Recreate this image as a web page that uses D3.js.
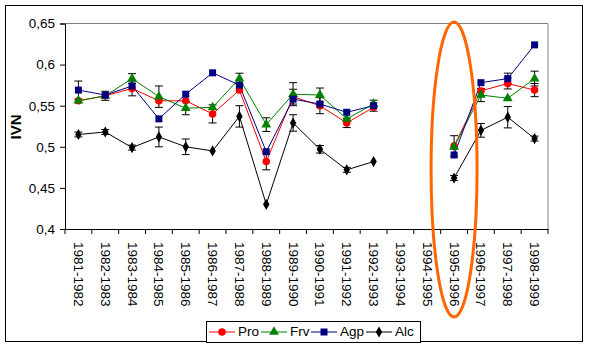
<!DOCTYPE html>
<html><head><meta charset="utf-8">
<script src="https://cdn.jsdelivr.net/npm/d3@7"></script>
<style>body{margin:0;background:#fff}svg{display:block}text{font-family:"Liberation Sans",Arial,sans-serif}</style>
</head><body><svg id="c" width="590" height="348"></svg>
<script>
const categories = ["1981-1982","1982-1983","1983-1984","1984-1985","1985-1986","1986-1987","1987-1988","1988-1989","1989-1990","1990-1991","1991-1992","1992-1993","1993-1994","1994-1995","1995-1996","1996-1997","1997-1998","1998-1999"];
const pro = [0.556,0.562,0.571,0.556,0.556,0.540,0.569,0.482,0.561,0.550,0.529,0.548,null,null,0.501,0.568,0.577,0.569];
const frv = [0.556,0.562,0.583,0.561,0.547,0.548,0.583,0.527,0.564,0.563,0.534,0.552,null,null,0.500,0.563,0.559,0.583];
const agp = [0.569,0.563,0.574,0.534,0.564,0.590,0.575,0.494,0.558,0.552,0.542,0.550,null,null,0.490,0.578,0.583,0.624];
const alc = [0.515,0.518,0.499,0.512,0.500,0.495,0.537,0.430,0.529,0.497,0.472,0.482,null,null,0.462,0.520,0.536,0.510];
const proErr = [0,0.0055,0.009,0,0,0.011,0,0.010,0.009,0.0097,0.0056,0,null,null,0.0125,0,0.0066,0.008];
const frvErr = [0,0,0.006,0.013,0.008,0,0.0065,0.0083,0.014,0.0085,0,0,null,null,0,0.008,0,0.009];
const agpErr = [0.011,0,0,0,0,0,0,0,0,0,0,0.0067,null,null,0,0,0.0066,0];
const alcErr = [0.003,0.003,0.003,0.012,0.0095,0,0.013,0,0.010,0.0046,0.003,0,null,null,0.003,0.0083,0.013,0.003];
const yTicks = [0.4,0.45,0.5,0.55,0.6,0.65];
const seriesNames = ["Pro","Frv","Agp","Alc"];
const colors = ["#FF0000","#008000","#000080","#000000"];

const svg = d3.select("#c");
const L = 65, R = 548, T = 23.5, B = 229;
svg.append("rect").attr("x",5.5).attr("y",5.5).attr("width",577).attr("height",336).attr("fill","#fff").attr("stroke","#000");

const x = d3.scaleBand().domain(categories).range([L,R]);
const y = d3.scaleLinear().domain([0.4,0.65]).range([B,T]);

// plot border (top/right gray)
svg.append("path").attr("d",`M${L},${T}H${R}V${B}`).attr("fill","none").attr("stroke","#808080");

const fmt = d => String(+d.toFixed(2)).replace(".",",");
const ya = svg.append("g").attr("transform",`translate(${L},0)`)
  .call(d3.axisLeft(y).tickValues(yTicks).tickFormat(fmt).tickSize(5).tickPadding(5));
ya.select(".domain").attr("stroke","#000");
ya.selectAll("text").attr("font-size",13.5).attr("fill","#000");

const xa = svg.append("g").attr("transform",`translate(0,${B})`)
  .call(d3.axisBottom(x).tickSize(0).tickFormat(""));
xa.select(".domain").attr("stroke","#000");
// ticks at category boundaries
const bounds = categories.map(c=>x(c)).concat([R]);
svg.append("g").selectAll("line").data(bounds).join("line")
  .attr("x1",d=>d).attr("x2",d=>d).attr("y1",B).attr("y2",B+5).attr("stroke","#000");
svg.append("g").selectAll("text").data(categories).join("text")
  .attr("transform",d=>`translate(${x(d)+x.bandwidth()/2-1},${B+13}) rotate(90)`)
  .attr("dominant-baseline","middle").attr("font-size",13.5).text(d=>d);

svg.append("text").attr("transform","translate(17.5,127) rotate(-90)").attr("text-anchor","middle")
  .attr("dominant-baseline","middle").attr("font-size",15).attr("font-weight","bold").text("IVN");

const data = [pro,frv,agp,alc];
const errs = [proErr,frvErr,agpErr,alcErr];
const cx = i => x(categories[i]) + x.bandwidth()/2;

const symbols = [d3.symbolCircle, d3.symbolTriangle, d3.symbolSquare, d3.symbolDiamond];
const sizes = [44, 42, 49, 36];

// error bars
errs.forEach((e,s)=>{
  const g = svg.append("g").attr("stroke","#000").attr("stroke-width",1);
  e.forEach((v,i)=>{
    if(!v || data[s][i]==null) return;
    const X = cx(i), y1 = y(data[s][i]+v), y2 = y(data[s][i]-v);
    g.append("line").attr("x1",X).attr("x2",X).attr("y1",y1).attr("y2",y2);
    g.append("line").attr("x1",X-4).attr("x2",X+4).attr("y1",y1).attr("y2",y1);
    g.append("line").attr("x1",X-4).attr("x2",X+4).attr("y1",y2).attr("y2",y2);
  });
});

data.forEach((vals,s)=>{
  const line = d3.line().defined(d=>d!=null).x((d,i)=>cx(i)).y(d=>y(d));
  svg.append("path").datum(vals).attr("d",line).attr("fill","none").attr("stroke",colors[s]).attr("stroke-width",1);
});
data.forEach((vals,s)=>{
  svg.append("g").selectAll("path").data(vals.map((v,i)=>({v,i})).filter(d=>d.v!=null)).join("path")
    .attr("transform",d=>`translate(${cx(d.i)},${y(d.v)})`)
    .attr("d",d3.symbol().type(symbols[s]).size(sizes[s])).attr("fill",colors[s]);
});

// orange ellipse highlight
svg.append("ellipse").attr("cx",cx(14)).attr("cy",169.5).attr("rx",23).attr("ry",147.5)
  .attr("fill","none").attr("stroke","#FF6600").attr("stroke-width",3);

// legend
const lg = svg.append("g");
lg.append("rect").attr("x",206.5).attr("y",321.5).attr("width",214).attr("height",21).attr("fill","#fff").attr("stroke","#000");
const lx = [209,261,311,366];
seriesNames.forEach((n,s)=>{
  const g = lg.append("g").attr("transform",`translate(${lx[s]},332)`);
  g.append("line").attr("x1",0).attr("x2",26).attr("stroke",colors[s]);
  g.append("path").attr("transform","translate(13,0)").attr("d",d3.symbol().type(symbols[s]).size(sizes[s])).attr("fill",colors[s]);
  g.append("text").attr("x",29).attr("dominant-baseline","middle").attr("font-size",13.5).text(n);
});
</script></body></html>
